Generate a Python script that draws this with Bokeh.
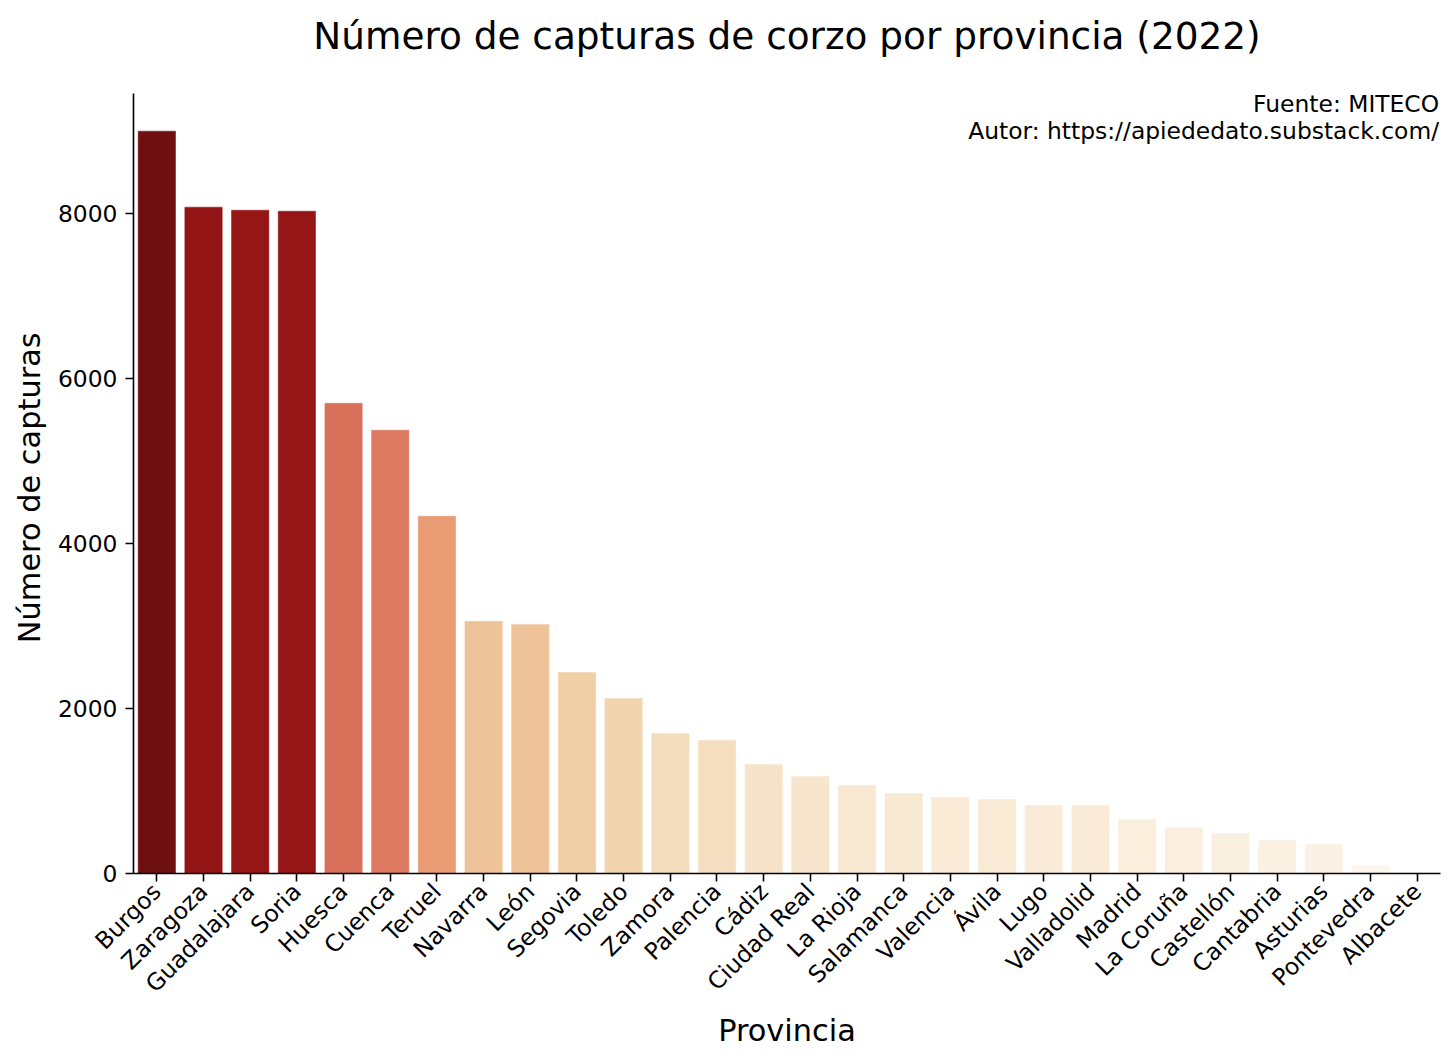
import colorsys
from bokeh.plotting import figure
from bokeh.models import ColumnDataSource, Label, FactorRange, Range1d
from bokeh.embed import file_html
from bokeh.resources import INLINE
import math

provincias = ["Burgos", "Zaragoza", "Guadalajara", "Soria", "Huesca", "Cuenca", "Teruel",
              "Navarra", "León", "Segovia", "Toledo", "Zamora", "Palencia", "Cádiz",
              "Ciudad Real", "La Rioja", "Salamanca", "Valencia", "Ávila", "Lugo",
              "Valladolid", "Madrid", "La Coruña", "Castellón", "Cantabria", "Asturias",
              "Pontevedra", "Albacete"]
capturas = [8994, 8073, 8036, 8024, 5697, 5370, 4327,
            3055, 3018, 2436, 2121, 1697, 1612, 1321,
            1176, 1067, 970, 921, 897, 824,
            824, 655, 558, 485, 400, 352,
            97, 12]
y_ticks = [0, 2000, 4000, 6000, 8000]
titulo = "Número de capturas de corzo por provincia (2022)"

# OrRd colormap stops (ColorBrewer) and seaborn-like desaturation
stops = ["#fff7ec", "#fee8c8", "#fdd49e", "#fdbb84", "#fc8d59",
         "#ef6548", "#d7301f", "#b30000", "#7f0000"]

def hex2rgb(h):
    h = h.lstrip("#")
    return [int(h[i:i + 2], 16) / 255 for i in (0, 2, 4)]

def cmap(t):
    t = min(max(t, 0.0), 1.0) * (len(stops) - 1)
    i = min(int(t), len(stops) - 2)
    f = t - i
    a, b = hex2rgb(stops[i]), hex2rgb(stops[i + 1])
    rgb = [a[k] + (b[k] - a[k]) * f for k in range(3)]
    h, l, s = colorsys.rgb_to_hls(*rgb)
    r, g, bb = colorsys.hls_to_rgb(h, l, s * 0.75)
    return "#%02x%02x%02x" % (round(r * 255), round(g * 255), round(bb * 255))

vmin, vmax = min(capturas), max(capturas)
colores = [cmap((v - vmin) / (vmax - vmin)) for v in capturas]

src = ColumnDataSource(dict(prov=provincias, val=capturas, color=colores))

FONT = "DejaVu Sans"
YMAX = 9450          # top of the visible y axis
W, H = 1448, 1054
TOP, BOTTOM = 5, 181
FRAME_BOTTOM = H - BOTTOM            # 873
AXIS_PX = 780                        # pixel length of the y axis (0..YMAX)
PX = AXIS_PX / YMAX                  # pixels per data unit
Y_EXT = (FRAME_BOTTOM - TOP) / PX    # range extended above axis for title room
TICK_FS = "23.4px"

p = figure(x_range=FactorRange(factors=provincias, range_padding=0),
           y_range=Range1d(0, Y_EXT),
           width=W, height=H, output_backend="svg", toolbar_location=None,
           min_border_left=133, min_border_right=8, min_border_top=TOP,
           min_border_bottom=BOTTOM)

p.vbar(x="prov", top="val", width=0.8, fill_color="color", line_color="color",
       line_width=0.5, source=src)

p.outline_line_color = None
p.xgrid.grid_line_color = None
p.ygrid.grid_line_color = None

for ax in (p.xaxis, p.yaxis):
    ax.axis_line_color = "black"
    ax.axis_line_width = 1.6
    ax.major_tick_line_color = "black"
    ax.major_tick_line_width = 1.6
    ax.major_tick_in = 0
    ax.major_tick_out = 8
    ax.minor_tick_line_color = None
    ax.major_label_text_font = FONT
    ax.major_label_text_font_size = TICK_FS
    ax.major_label_text_color = "black"
    ax.axis_label_text_font = FONT
    ax.axis_label_text_font_size = "30.4px"
    ax.axis_label_text_font_style = "normal"
    ax.axis_label_text_color = "black"

p.yaxis.ticker = y_ticks
p.yaxis.bounds = (0, YMAX)
# trailing no-break spaces keep the label centred on the visible axis, not the taller frame
p.yaxis.axis_label = "Número de capturas" + "\u00a0" * 10
p.yaxis.major_label_standoff = 8
p.yaxis.axis_label_standoff = 8

p.xaxis.axis_label = "Provincia"
p.xaxis.major_label_orientation = math.pi / 4
p.xaxis.major_label_standoff = 6
p.xaxis.axis_label_standoff = 2

# title placed in the extra room above the y axis
p.add_layout(Label(x=len(provincias) / 2, y=(FRAME_BOTTOM - 35) / PX, text=titulo,
                   text_align="center", text_baseline="middle", text_font=FONT,
                   text_font_size="37.4px", text_color="black"))

line_gap = 26.5 / PX
top_y = YMAX + 40
p.add_layout(Label(x=27.97, y=top_y, text="Fuente: MITECO", text_align="right",
                   text_baseline="top", text_font=FONT, text_font_size=TICK_FS,
                   text_color="black"))
p.add_layout(Label(x=27.97, y=top_y - line_gap, text="Autor: https://apiededato.substack.com/",
                   text_align="right", text_baseline="top", text_font=FONT,
                   text_font_size=TICK_FS, text_color="black"))

open("out.html", "w").write(file_html(p, INLINE))
